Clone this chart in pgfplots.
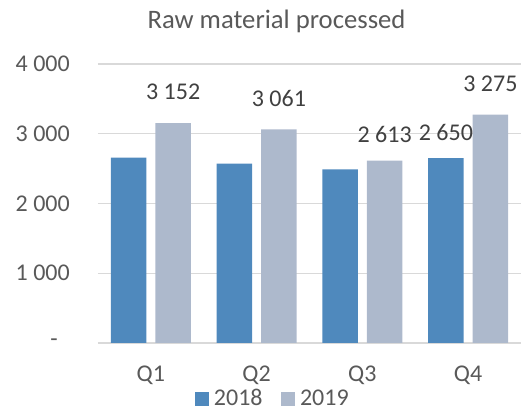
\documentclass[border=0pt]{standalone}
\usepackage{fontspec}
\setmainfont{Carlito}
\usepackage{pgfplots}
\usepackage{pgfplotstable}
\pgfplotsset{compat=1.18}
\definecolor{cA}{HTML}{4F89BD}
\definecolor{cB}{HTML}{ADB9CC}
\definecolor{grd}{HTML}{D9D9D9}
\definecolor{txt}{HTML}{595959}
\definecolor{lbl}{HTML}{404040}

\pgfplotstableread[col sep=comma]{
x,y,label,off
0,2657,,0
1,2571,,0
2,2490,,0
3,2650,2 650,17.5
}\tabA

\pgfplotstableread[col sep=comma]{
x,y,label,off
0,3152,3 152,23.5
1,3061,3 061,22.8
2,2613,2 613,18
3,3275,3 275,22.9
}\tabB

\begin{document}
\begin{tikzpicture}
\path[use as bounding box] (0,0) rectangle (523pt,409pt);
\begin{axis}[
 at={(98pt,66pt)}, anchor=south west,
 scale only axis, width=423pt, height=279pt,
 xmin=-0.5, xmax=3.5, ymin=0, ymax=4000,
 ybar=9pt, bar width=35.5pt,
 xtick={0,1,2,3}, xticklabels={Q1,Q2,Q3,Q4},
 ytick={0,1000,2000,3000,4000},
 yticklabels={{-\kern12pt},{1 000},{2 000},{3 000},{4 000}},
 ymajorgrids, grid style={draw=grd, line width=1.2pt},
 axis line style={draw=none},
 major tick length=0pt,
 tick label style={font=\fontsize{24}{28}\selectfont, text=txt, inner sep=0pt},
 yticklabel style={anchor=east, xshift=-28pt},
 xticklabel style={anchor=base, yshift=-38.7pt},
 title={Raw material processed},
 every axis title/.style={font=\fontsize{26.67}{30}\selectfont, text=txt, at={(axis description cs:0.422,1.129)}, anchor=base, inner sep=0pt},
 clip=false,
 legend columns=2,
 legend style={draw=none, fill=none, at={(axis description cs:0.411,-0.199)}, anchor=center, font=\fontsize{24}{28}\selectfont, text=txt, inner sep=0pt, column sep=5pt, /tikz/every even column/.append style={column sep=18.4pt}, nodes={inner sep=0pt}},
 legend image code/.code={\fill[#1] (0pt,-7pt) rectangle (14pt,7pt);},
 point meta=explicit symbolic,
 nodes near coords={\pgfplotspointmeta},
 visualization depends on={\thisrow{off}\as\myoff},
 every node near coord/.append style={font=\fontsize{24}{28}\selectfont, text=lbl, anchor=base, inner sep=0pt, yshift=\myoff pt},
]
\addplot[fill=cA, draw=none] table[x=x,y=y,meta=label] {\tabA};
\addplot[fill=cB, draw=none] table[x=x,y=y,meta=label] {\tabB};
\legend{2018,2019}
\end{axis}
\end{tikzpicture}
\end{document}
